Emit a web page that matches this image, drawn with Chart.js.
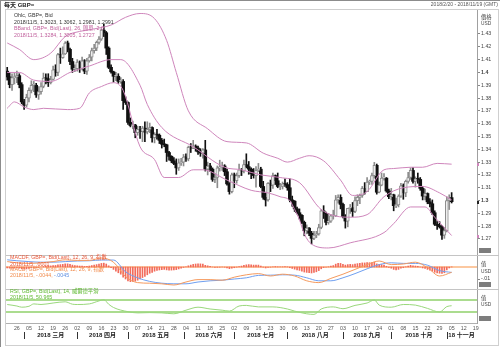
<!DOCTYPE html>
<html>
<head>
<meta charset="utf-8">
<script src="https://cdn.jsdelivr.net/npm/chart.js@4.4.0/dist/chart.umd.min.js"></script>
<style>
  html, body { margin: 0; padding: 0; background: #fff; }
  #wrap { width: 500px; height: 347px; position: relative; }
</style>
</head>
<body>
<div id="wrap"><canvas id="chart" width="500" height="347"></canvas></div>
<script>
// ---- axis labels ----
// one label per Monday, Feb 26 .. Nov 19 (trading-day index 4, 9, 14 ...)
const weekLabels = ['26','05','12','19','26','02','09','16','23','30','07','14','21','28',
  '04','11','18','25','02','09','16','23','30','06','13','20','27','03','10','17','24',
  '01','08','15','22','29','05','12','19'];
const monthNames = ['2018 三月','2018 四月','2018 五月','2018 六月','2018 七月','2018 八月','2018 九月','2018 十月','18 十一月'];
const monthStart = [7, 29, 50, 73, 94, 116, 139, 159, 182];
const priceTicks = [1.27,1.28,1.29,1.30,1.31,1.32,1.33,1.34,1.35,1.36,1.37,1.38,1.39,1.40,1.41,1.42,1.43];

// ---- daily GBP= candles, 2018-02-20 .. 2018-11-05 (5 trading days a week) ----
const opens = [
  1.4010,1.3965,1.3905,1.3960,
  1.3965,1.3975,1.3905,1.3770,1.3745, 1.3800,1.3860,1.3900,1.3900,1.3825,
  1.3850,1.3890,1.3955,1.3950,1.3920, 1.3945,1.4020,1.4000,1.4140,1.4115,
  1.4145,1.4230,1.4180,1.4085,1.4025, 1.4030,1.4080,1.4030,1.4090,1.4010,
  1.4090,1.4120,1.4170,1.4190,1.4235, 1.4260,1.4330,1.4310,1.4190,1.4040,
  1.4005,1.3970,1.3970,1.3930,1.3930, 1.3780,1.3765,1.3610,1.3585,1.3590,
  1.3530,1.3555,1.3540,1.3565,1.3535, 1.3555,1.3570,1.3490,1.3515,1.3510,
  1.3470,1.3440,1.3435,1.3375,1.3345, 1.3310,1.3290,1.3255,1.3295,1.3300,
  1.3340,1.3325,1.3415,1.3410,1.3425, 1.3410,1.3380,1.3370,1.3395,1.3245,
  1.3270,1.3245,1.3165,1.3180,1.3255, 1.3260,1.3270,1.3225,1.3130,1.3070,
  1.3200,1.3155,1.3195,1.3240,1.3230, 1.3280,1.3265,1.3245,1.3210,1.3195,
  1.3235,1.3245,1.3110,1.3025,1.3005, 1.3135,1.3120,1.3195,1.3155,1.3110,
  1.3110,1.3130,1.3125,1.3100,1.3005, 1.2995,1.2935,1.2905,1.2885,1.2830,
  1.2765,1.2785,1.2745,1.2705,1.2730, 1.2740,1.2790,1.2920,1.2900,1.2830,
  1.2840,1.2880,1.2880,1.3005,1.3025, 1.2970,1.2875,1.2840,1.2940,1.2945,
  1.2915,1.3000,1.3025,1.3040,1.3095, 1.3070,1.3145,1.3150,1.3195,1.3275,
  1.3065,1.3120,1.3175,1.3175,1.3075, 1.3030,1.3045,1.2960,1.2965,1.3035,
  1.3115,1.3060,1.3150,1.3180,1.3235, 1.3150,1.3170,1.3165,1.3095,1.3035,
  1.3055,1.2990,1.2975,1.2905,1.2815, 1.2805,1.2795,1.2730,1.2765,1.3000,
  1.3023
];
const highs = [
  1.4040,1.4000,1.3990,1.3995,
  1.4010,1.3990,1.3920,1.3790,1.3830, 1.3880,1.3935,1.3930,1.3915,1.3890,
  1.3920,1.3995,1.3990,1.3990,1.3970, 1.4050,1.4060,1.4150,1.4190,1.4200,
  1.4240,1.4245,1.4190,1.4110,1.4060, 1.4100,1.4090,1.4120,1.4100,1.4110,
  1.4140,1.4190,1.4220,1.4245,1.4280, 1.4340,1.4377,1.4320,1.4200,1.4060,
  1.4010,1.4000,1.3990,1.3960,1.3945, 1.3810,1.3770,1.3645,1.3620,1.3595,
  1.3580,1.3580,1.3580,1.3615,1.3615, 1.3605,1.3575,1.3530,1.3555,1.3520,
  1.3485,1.3480,1.3440,1.3385,1.3350, 1.3335,1.3325,1.3325,1.3330,1.3360,
  1.3365,1.3425,1.3445,1.3470,1.3435, 1.3425,1.3405,1.3405,1.3470,1.3300,
  1.3290,1.3255,1.3210,1.3270,1.3315, 1.3300,1.3280,1.3245,1.3140,1.3215,
  1.3215,1.3215,1.3285,1.3250,1.3315, 1.3365,1.3305,1.3255,1.3250,1.3265,
  1.3290,1.3260,1.3150,1.3065,1.3140, 1.3160,1.3215,1.3200,1.3215,1.3135,
  1.3145,1.3170,1.3140,1.3170,1.3035, 1.3000,1.2950,1.2935,1.2890,1.2840,
  1.2810,1.2790,1.2760,1.2760,1.2760, 1.2815,1.2930,1.2960,1.2910,1.2900,
  1.2890,1.2925,1.3040,1.3045,1.3045, 1.2980,1.2890,1.2940,1.2970,1.2985,
  1.3030,1.3045,1.3050,1.3110,1.3140, 1.3180,1.3160,1.3215,1.3298,1.3285,
  1.3145,1.3215,1.3210,1.3180,1.3090, 1.3095,1.3050,1.3020,1.3045,1.3135,
  1.3130,1.3160,1.3220,1.3255,1.3257, 1.3185,1.3215,1.3180,1.3110,1.3090,
  1.3060,1.3015,1.3005,1.2920,1.2835, 1.2835,1.2805,1.2790,1.3030,1.3045,
  1.3062
];
const lows = [
  1.3940,1.3880,1.3860,1.3910,
  1.3920,1.3880,1.3755,1.3712,1.3730, 1.3770,1.3840,1.3850,1.3805,1.3790,
  1.3830,1.3880,1.3910,1.3890,1.3910, 1.3940,1.3970,1.3975,1.4070,1.4110,
  1.4140,1.4160,1.4060,1.4000,1.4005, 1.4010,1.4000,1.4020,1.3990,1.3985,
  1.4080,1.4090,1.4150,1.4170,1.4220, 1.4250,1.4280,1.4140,1.4030,1.3995,
  1.3925,1.3935,1.3915,1.3915,1.3712, 1.3750,1.3595,1.3575,1.3560,1.3490,
  1.3510,1.3485,1.3460,1.3460,1.3520, 1.3530,1.3455,1.3450,1.3480,1.3445,
  1.3410,1.3420,1.3305,1.3315,1.3295, 1.3280,1.3205,1.3235,1.3275,1.3270,
  1.3305,1.3310,1.3375,1.3405,1.3385, 1.3360,1.3345,1.3330,1.3230,1.3200,
  1.3225,1.3150,1.3140,1.3100,1.3230, 1.3235,1.3195,1.3120,1.3050,1.3060,
  1.3100,1.3135,1.3180,1.3195,1.3215, 1.3255,1.3205,1.3170,1.3175,1.3105,
  1.3225,1.3100,1.3010,1.2957,1.2995, 1.3070,1.3095,1.3125,1.3100,1.3085,
  1.3090,1.3110,1.3080,1.2990,1.2955, 1.2915,1.2895,1.2855,1.2820,1.2725,
  1.2740,1.2725,1.2662,1.2695,1.2710, 1.2730,1.2780,1.2860,1.2810,1.2815,
  1.2830,1.2855,1.2875,1.2980,1.2935, 1.2865,1.2785,1.2795,1.2900,1.2875,
  1.2905,1.2960,1.2975,1.3025,1.3050, 1.3070,1.3125,1.3125,1.3175,1.3050,
  1.3060,1.3115,1.3160,1.3065,1.3015, 1.3005,1.2920,1.2945,1.2950,1.3025,
  1.3010,1.3030,1.3135,1.3165,1.3135, 1.3105,1.3135,1.3080,1.3005,1.3005,
  1.2975,1.2950,1.2890,1.2805,1.2775, 1.2785,1.2696,1.2705,1.2755,1.2930,
  1.2981
];
const closes = [
  1.3965,1.3905,1.3960,1.3965,
  1.3975,1.3905,1.3770,1.3745,1.3805, 1.3860,1.3900,1.3900,1.3825,1.3850,
  1.3890,1.3955,1.3950,1.3920,1.3945, 1.4020,1.4000,1.4140,1.4115,1.4145,
  1.4230,1.4180,1.4085,1.4025,1.4030, 1.4080,1.4030,1.4090,1.4010,1.4090,
  1.4120,1.4170,1.4190,1.4235,1.4260, 1.4330,1.4310,1.4190,1.4040,1.4005,
  1.3970,1.3970,1.3930,1.3930,1.3780, 1.3765,1.3610,1.3585,1.3590,1.3530,
  1.3555,1.3540,1.3565,1.3535,1.3555, 1.3570,1.3490,1.3515,1.3510,1.3470,
  1.3440,1.3435,1.3375,1.3345,1.3310, 1.3290,1.3255,1.3295,1.3300,1.3340,
  1.3325,1.3415,1.3410,1.3425,1.3410, 1.3380,1.3370,1.3395,1.3245,1.3270,
  1.3245,1.3165,1.3180,1.3255,1.3260, 1.3270,1.3225,1.3130,1.3070,1.3200,
  1.3155,1.3195,1.3240,1.3230,1.3280, 1.3265,1.3245,1.3210,1.3195,1.3235,
  1.3245,1.3110,1.3025,1.3005,1.3135, 1.3120,1.3195,1.3155,1.3110,1.3110,
  1.3130,1.3125,1.3100,1.3005,1.2995, 1.2935,1.2905,1.2885,1.2830,1.2765,
  1.2785,1.2745,1.2705,1.2730,1.2740, 1.2790,1.2920,1.2900,1.2830,1.2840,
  1.2880,1.2880,1.3005,1.3025,1.2970, 1.2875,1.2840,1.2940,1.2945,1.2915,
  1.3000,1.3025,1.3040,1.3095,1.3070, 1.3145,1.3150,1.3195,1.3275,1.3065,
  1.3120,1.3175,1.3175,1.3075,1.3030, 1.3045,1.2960,1.2965,1.3035,1.3115,
  1.3060,1.3150,1.3180,1.3235,1.3150, 1.3170,1.3165,1.3095,1.3035,1.3055,
  1.2990,1.2975,1.2905,1.2815,1.2805, 1.2795,1.2730,1.2765,1.3000,1.3015,
  1.2991
];

// ---- Bollinger (26, 2.0): [day index], [value] ----
const bbUpperAt  = [0, 5, 11, 18, 24, 30, 36, 43, 49, 55, 61, 66, 70, 75, 83, 91, 99, 106, 112, 116, 121, 125, 131, 138, 143, 149, 156, 160, 167, 172, 178, 184];
const bbUpper    = [1.423, 1.418, 1.410, 1.415, 1.428, 1.432, 1.434, 1.437, 1.443, 1.446, 1.442, 1.425, 1.400, 1.370, 1.356, 1.346, 1.345, 1.337, 1.333, 1.330, 1.333, 1.335, 1.331, 1.316, 1.304, 1.307, 1.324, 1.325, 1.326, 1.326, 1.329, 1.3284];
const bbMiddleAt = [0, 5, 11, 18, 26, 34, 43, 47, 55, 58, 64, 77, 90, 97, 105, 113, 121, 130, 142, 149, 156, 164, 172, 179, 184];
const bbMiddle   = [1.400, 1.400, 1.394, 1.393, 1.400, 1.405, 1.410, 1.410, 1.390, 1.375, 1.357, 1.342, 1.326, 1.324, 1.320, 1.318, 1.314, 1.293, 1.287, 1.289, 1.303, 1.310, 1.311, 1.306, 1.3005];
const bbLowerAt  = [0, 3, 7, 11, 15, 25, 30, 34, 39, 44, 48, 55, 61, 65, 71, 77, 81, 91, 101, 108, 113, 117, 119, 121, 123, 126, 133, 142, 156, 160, 167, 173, 177, 184];
const bbLower    = [1.372, 1.377, 1.373, 1.371, 1.372, 1.371, 1.372, 1.384, 1.389, 1.392, 1.386, 1.342, 1.332, 1.318, 1.318, 1.324, 1.324, 1.316, 1.308, 1.306, 1.303, 1.300, 1.293, 1.285, 1.274, 1.266, 1.263, 1.267, 1.275, 1.282, 1.295, 1.295, 1.287, 1.2727];

// ---- MACD (12, 26, 9): line + signal read weekly, histogram daily ----
const macdAt   = [0, 4, 9, 14, 19, 24, 29, 34, 39, 44, 49, 54, 59, 64, 69, 74, 79, 84, 89, 94, 99, 104, 109, 114, 119, 124, 129, 134, 139, 144, 149, 154, 159, 164, 169, 174, 179, 184];
const macdLine = [0.0045,0.0035,0.0030,0.0035,0.0045,0.0060,0.0055,0.0055,0.0075,0.0040,-0.0080,-0.0130,-0.0135,-0.0140,-0.0150,-0.0125,-0.0105,-0.0105,-0.0110,-0.0085,-0.0065,-0.0055,-0.0075,-0.0060,-0.0075,-0.0115,-0.0130,-0.0095,-0.0060,-0.0020,0.0020,0.0050,0.0020,0.0025,0.0040,-0.0005,-0.0075,-0.0044];
const macdSig  = [0.0060,0.0052,0.0045,0.0040,0.0040,0.0045,0.0050,0.0052,0.0058,0.0058,-0.0040,-0.0090,-0.0120,-0.0135,-0.0140,-0.0140,-0.0125,-0.0115,-0.0110,-0.0100,-0.0090,-0.0070,-0.0068,-0.0065,-0.0068,-0.0090,-0.0115,-0.0115,-0.0090,-0.0055,-0.0015,0.0020,0.0035,0.0030,0.0030,0.0015,-0.0030,-0.0045];
const macdHist = [
  -0.0008,-0.0010,-0.0010,-0.0009,
  -0.0008,-0.0010,-0.0015,-0.0018,-0.0016, -0.0012,-0.0008,-0.0005,-0.0004,-0.0003,
  0.0000,0.0004,0.0007,0.0008,0.0009, 0.0012,0.0013,0.0018,0.0020,0.0022,
  0.0026,0.0026,0.0022,0.0016,0.0012, 0.0010,0.0008,0.0008,0.0005,0.0006,
  0.0008,0.0012,0.0015,0.0020,0.0024, 0.0030,0.0032,0.0025,0.0010,-0.0005,
  -0.0020,-0.0035,-0.0048,-0.0060,-0.0085, -0.0100,-0.0115,-0.0122,-0.0120,-0.0118,
  -0.0110,-0.0100,-0.0088,-0.0078,-0.0065, -0.0052,-0.0045,-0.0035,-0.0028,-0.0025,
  -0.0022,-0.0020,-0.0024,-0.0026,-0.0026, -0.0024,-0.0022,-0.0016,-0.0010,-0.0004,
  0.0002,0.0010,0.0016,0.0022,0.0025, 0.0026,0.0026,0.0025,0.0014,0.0010,
  0.0006,0.0000,-0.0004,-0.0003,-0.0002, 0.0000,-0.0002,-0.0008,-0.0014,-0.0010,
  -0.0006,-0.0002,0.0004,0.0008,0.0014, 0.0018,0.0020,0.0018,0.0016,0.0016,
  0.0016,0.0008,-0.0002,-0.0008,-0.0004, -0.0002,0.0002,0.0004,0.0002,0.0002,
  0.0002,0.0003,0.0002,-0.0006,-0.0012, -0.0018,-0.0024,-0.0028,-0.0034,-0.0042,
  -0.0045,-0.0048,-0.0050,-0.0046,-0.0040, -0.0030,-0.0015,-0.0005,-0.0002,0.0002,
  0.0008,0.0012,0.0024,0.0030,0.0030, 0.0022,0.0016,0.0020,0.0022,0.0020,
  0.0024,0.0028,0.0030,0.0034,0.0034, 0.0036,0.0036,0.0036,0.0040,0.0026,
  0.0022,0.0020,0.0016,0.0006,-0.0004, -0.0010,-0.0020,-0.0024,-0.0020,-0.0010,
  -0.0006,0.0002,0.0008,0.0014,0.0010, 0.0008,0.0006,0.0000,-0.0008,-0.0012,
  -0.0020,-0.0026,-0.0034,-0.0044,-0.0050, -0.0052,-0.0054,-0.0048,-0.0024,-0.0008,
  0.0001
];

// ---- RSI (14, Wilder) ----
const rsiAt  = [0, 4, 6, 9, 11, 14, 19, 24, 27, 29, 34, 38, 40, 42, 44, 50, 54, 59, 64, 69, 74, 79, 84, 89, 92, 96, 99, 104, 110, 116, 119, 124, 127, 130, 135, 139, 144, 149, 152, 154, 159, 164, 169, 174, 179, 182, 184];
const rsiVal = [55, 50, 46, 49, 57, 55, 60, 64, 56, 55, 57, 67, 71, 56, 45, 31, 27, 28, 27, 24, 36, 46, 40, 36, 33, 50, 52, 47, 47, 40, 33, 24, 22, 40, 47, 41, 52, 60, 70, 53, 46, 55, 53, 42, 30, 48, 50.965];
const rsiLevels = [70, 30];

const FONT = '"Liberation Sans", "Noto Sans CJK TC", sans-serif';
const BB_COLOR = '#cf86bc';
const X_MIN = -0.5, X_MAX = 194.5;

const days = closes.map((_, i) => i);
const upDays = days.filter(i => closes[i] >= opens[i]);
const downDays = days.filter(i => closes[i] < opens[i]);
const pts = (at, vals) => at.map((x, k) => ({ x: x, y: vals[k] }));

function lineSet(axis, data, color, width, order) {
    return {
        type: 'line', yAxisID: axis, data: data,
        borderColor: color, borderWidth: width,
        pointRadius: 0, cubicInterpolationMode: 'monotone',
        order: order
    };
}

// draws frame, titles, legends, month row, panel separators
const decor = {
    id: 'decor',
    beforeDraw(chart) {
        const ctx = chart.ctx;
        ctx.save();
        ctx.fillStyle = '#fff';
        ctx.fillRect(0, 0, chart.width, chart.height);
        ctx.strokeStyle = '#cfcfcf';
        ctx.lineWidth = 1;
        ctx.strokeRect(5.5, 9.5, chart.width - 7, chart.height - 11);
        ctx.strokeStyle = '#8c8c8c';
        ctx.beginPath();
        ctx.moveTo(0.5, 0); ctx.lineTo(0.5, chart.height);
        ctx.moveTo(0, 0.5); ctx.lineTo(chart.width, 0.5);
        ctx.stroke();
        ctx.restore();
    },
    afterDraw(chart) {
        const ctx = chart.ctx;
        const area = chart.chartArea;
        const sx = chart.scales.x, sy = chart.scales.y, sm = chart.scales.macd, sr = chart.scales.rsi;
        const text = (s, x, y, color, size, bold, align) => {
            ctx.font = (bold ? 'bold ' : '') + size + 'px ' + FONT;
            ctx.fillStyle = color;
            ctx.textAlign = align || 'left';
            ctx.textBaseline = 'middle';
            ctx.fillText(s, x, y);
        };
        ctx.save();

        // panel separators
        ctx.strokeStyle = '#c4c4c4';
        ctx.lineWidth = 1;
        ctx.beginPath();
        [sm.top, sr.top].forEach(t => {
            ctx.moveTo(area.left, Math.round(t) + 0.5);
            ctx.lineTo(chart.width - 1, Math.round(t) + 0.5);
        });
        ctx.stroke();

        // header
        text('每天 GBP=', 4, 5, '#222', 6, true);
        text('2018/2/20 - 2018/11/19 (GMT)', chart.width - 2, 5, '#555', 5, false, 'right');

        // price panel legend
        const lx = area.left + 8;
        text('Ohlc, GBP=, Bid', lx, sy.top + 6, '#333', 5.3);
        text('2018/11/5, 1.3023, 1.3062, 1.2981, 1.2991', lx, sy.top + 12.5, '#333', 5.3);
        text('BBand, GBP=, Bid(Last), 26, 簡單, 2.0', lx, sy.top + 19, '#c0609c', 5.3);
        text('2018/11/5, 1.3284, 1.3005, 1.2727', lx, sy.top + 25.5, '#c0609c', 5.3);

        // MACD legend
        const mx = area.left + 4;
        text('MACDF, GBP=, Bid(Last), 12, 26, 9, 指數', mx, sm.top + 3, '#ea5a3c', 5.3);
        text('2018/11/5, .0001', mx, sm.top + 9.5, '#ea5a3c', 5.3);
        text('MACD, GBP=, Bid(Last), 12, 26, 9, 指數', mx, sm.top + 15, '#f08a4b', 5.3);
        ctx.font = '5.3px ' + FONT;
        const head = '2018/11/5, -.0044, ';
        text(head, mx, sm.top + 20.5, '#f08a4b', 5.3);
        text('-.0045', mx + ctx.measureText(head).width, sm.top + 20.5, '#5b8de0', 5.3);

        // RSI legend
        text('RSI, GBP=, Bid(Last), 14, 威爾德平滑', mx, sr.top + 3, '#5cb82e', 5.3);
        text('2018/11/5, 50.965', mx, sr.top + 8.5, '#5cb82e', 5.3);

        // right axis captions
        const ax = area.right + 4;
        text('價格', ax, sy.top + 8, '#444', 5.3);
        text('USD', ax, sy.top + 14, '#444', 4.8);
        const z = sm.getPixelForValue(0);
        text('值', ax, z - 2, '#444', 5.3);
        text('USD', ax, z + 5, '#444', 4.8);
        const r70 = sr.getPixelForValue(70);
        text('值', ax, r70 - 1, '#444', 5.3);
        text('USD', ax, r70 + 5, '#444', 4.8);

        // grey corner boxes at the foot of each axis
        ctx.fillStyle = '#7d7d7d';
        [sy, sm, sr].forEach(s => ctx.fillRect(area.right + 2, s.bottom - 7, 12, 5));

        // last-value markers on the price axis
        [[bbUpper[bbUpper.length - 1], BB_COLOR], [closes[closes.length - 1], '#222'], [bbLower[bbLower.length - 1], BB_COLOR]]
            .forEach(([v, c]) => {
                ctx.fillStyle = c;
                ctx.fillRect(area.right, Math.round(sy.getPixelForValue(v)) - 1, 2, 3);
            });

        // month row
        ctx.strokeStyle = '#333';
        ctx.beginPath();
        monthStart.forEach(i => {
            const px = Math.round(sx.getPixelForValue(i)) + 0.5;
            ctx.moveTo(px, area.bottom + 9);
            ctx.lineTo(px, area.bottom + 16);
        });
        ctx.stroke();
        monthNames.forEach((name, k) => {
            const a = sx.getPixelForValue(monthStart[k]);
            if (k === monthNames.length - 1) {
                text(name, a + 1.5, area.bottom + 12.5, '#222', 6, true);
            } else {
                const b = sx.getPixelForValue(monthStart[k + 1]);
                text(name, (a + b) / 2, area.bottom + 12.5, '#222', 6, true, 'center');
            }
        });
        ctx.restore();
    }
};

const fullSpan = v => [{ x: X_MIN, y: v }, { x: X_MAX, y: v }];
const axisFont = { family: FONT, size: 5.3 };

new Chart(document.getElementById('chart'), {
    type: 'bar',
    data: {
        datasets: [
            // Bollinger bands
            lineSet('y', pts(bbUpperAt, bbUpper), BB_COLOR, 1, 0),
            lineSet('y', pts(bbMiddleAt, bbMiddle), BB_COLOR, 1, 0),
            lineSet('y', pts(bbLowerAt, bbLower), BB_COLOR, 1, 0),
            // candle bodies
            {
                yAxisID: 'y', grouped: false, order: 1,
                data: upDays.map(i => ({ x: i, y: [opens[i], closes[i]] })),
                backgroundColor: '#eeeeee', borderColor: '#8c8c8c', borderWidth: 1,
                borderSkipped: false, barThickness: 3, maxBarThickness: 3, minBarLength: 1
            },
            {
                yAxisID: 'y', grouped: false, order: 1,
                data: downDays.map(i => ({ x: i, y: [opens[i], closes[i]] })),
                backgroundColor: '#111111', barThickness: 3, maxBarThickness: 3, minBarLength: 1
            },
            // wicks
            {
                yAxisID: 'y', grouped: false, order: 2,
                data: days.map(i => ({ x: i, y: [lows[i], highs[i]] })),
                backgroundColor: days.map(i => closes[i] >= opens[i] ? '#8c8c8c' : '#111111'),
                barThickness: 1, maxBarThickness: 1
            },
            // MACD panel
            lineSet('macd', fullSpan(0), '#fcc8a0', 2, 4),
            {
                yAxisID: 'macd', grouped: false, order: 3,
                data: days.map(i => ({ x: i, y: [0, macdHist[i]] })),
                backgroundColor: '#f26b5b', barThickness: 1, maxBarThickness: 1
            },
            lineSet('macd', pts(macdAt, macdLine), '#f59a5e', 1, 0),
            lineSet('macd', pts(macdAt, macdSig), '#6f9ff0', 1, 0),
            // RSI panel
            lineSet('rsi', fullSpan(rsiLevels[0]), '#8fd06a', 1.5, 2),
            lineSet('rsi', fullSpan(rsiLevels[1]), '#8fd06a', 1.5, 2),
            lineSet('rsi', pts(rsiAt, rsiVal), '#9ad87c', 1, 0)
        ]
    },
    options: {
        responsive: false,
        animation: false,
        devicePixelRatio: 1,
        layout: { padding: { left: 6, top: 10, right: 0, bottom: 0 } },
        plugins: { legend: { display: false }, tooltip: { enabled: false } },
        scales: {
            x: {
                type: 'linear', min: X_MIN, max: X_MAX, offset: false,
                grid: { display: false, drawTicks: false },
                border: { display: true, color: '#b0b0b0' },
                ticks: {
                    autoSkip: false, maxRotation: 0, padding: 2, color: '#555', font: axisFont,
                    callback: (v, i) => weekLabels[i]
                },
                afterBuildTicks: s => { s.ticks = weekLabels.map((_, k) => ({ value: 4 + 5 * k })); },
                afterFit: s => { s.height = 24; }
            },
            y: {
                position: 'right', stack: 'panels', stackWeight: 245,
                min: 1.25751, max: 1.44873,
                grid: { drawOnChartArea: false, tickLength: 3, color: '#888' },
                border: { color: '#a0a0a0' },
                ticks: {
                    autoSkip: false, padding: 1, color: '#444',
                    font: ctx => ({ family: FONT, size: 5.3, weight: (ctx.tick && Math.abs(ctx.tick.value * 10 - Math.round(ctx.tick.value * 10)) < 1e-6) ? 'bold' : 'normal' }),
                    callback: v => String(Number(v.toFixed(2)))
                },
                afterBuildTicks: s => { s.ticks = priceTicks.map(v => ({ value: v })); },
                afterFit: s => { s.width = 23; }
            },
            macd: {
                position: 'right', stack: 'panels', stackWeight: 34,
                min: -0.01833, max: 0.01,
                grid: { drawOnChartArea: false, tickLength: 3, color: '#888' },
                border: { color: '#a0a0a0' },
                ticks: { autoSkip: false, padding: 1, color: '#444', font: axisFont, callback: () => '-.01' },
                afterBuildTicks: s => { s.ticks = [{ value: -0.01 }]; },
                afterFit: s => { s.width = 23; }
            },
            rsi: {
                position: 'right', stack: 'panels', stackWeight: 34,
                min: -6.7, max: 106.7,
                grid: { display: false },
                border: { color: '#a0a0a0' },
                ticks: { display: false },
                afterFit: s => { s.width = 23; }
            }
        }
    },
    plugins: [decor]
});
</script>
</body>
</html>
